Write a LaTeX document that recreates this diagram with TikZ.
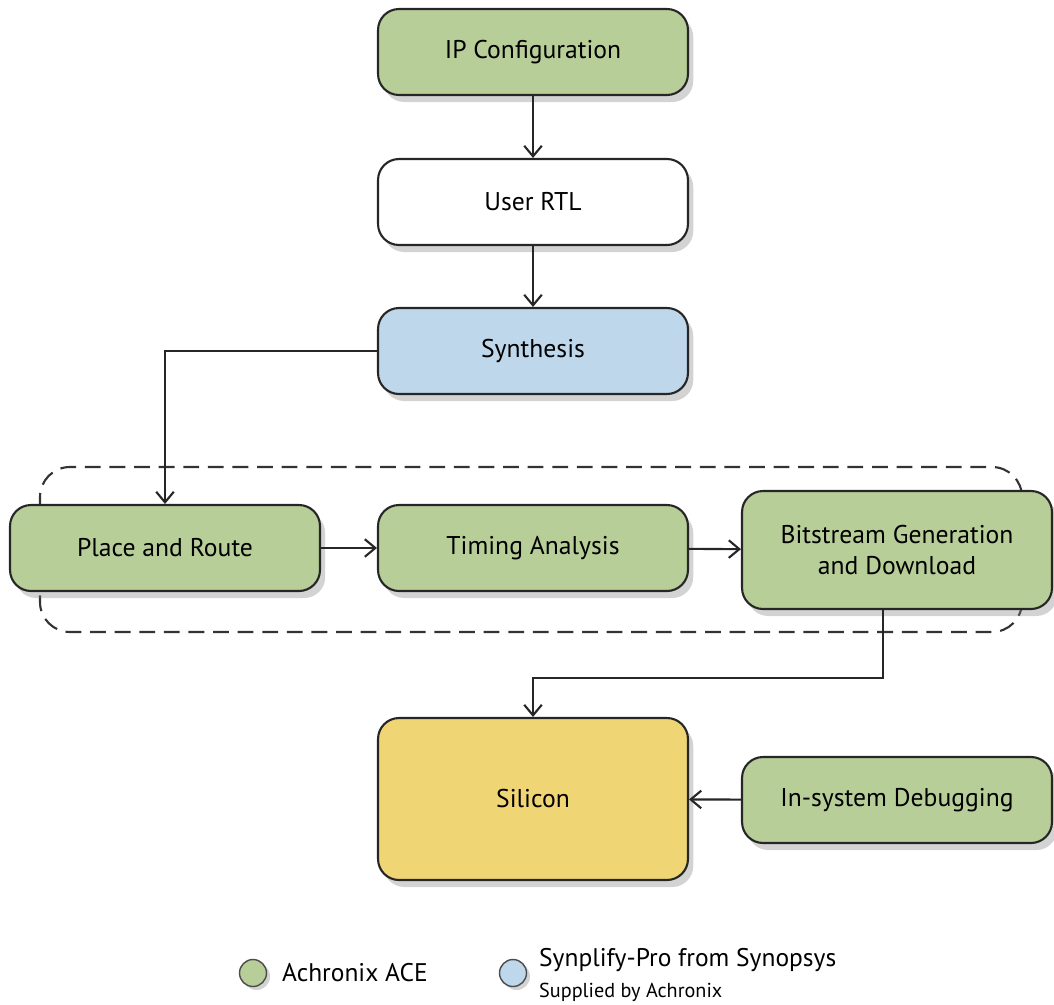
\documentclass[tikz,border=0pt]{standalone}
\usepackage{fontspec}
\setmainfont{PT Sans}
\usetikzlibrary{shadows,arrows.meta}
\definecolor{acegreen}{RGB}{184,206,152}
\definecolor{synblue}{RGB}{191,215,234}
\definecolor{siliconyellow}{RGB}{240,213,116}

\begin{document}
\begin{tikzpicture}[x=0.02cm,y=-0.02cm,
    stage/.style={draw=black!85,line width=1.2pt,rounded corners=0.42cm,
      minimum width=6.2cm,minimum height=1.72cm,align=center,
      font=\fontsize{14.6}{18}\selectfont,
      drop shadow={shadow xshift=3pt,shadow yshift=-4pt,opacity=0.35}},
    flow/.style={-{Straight Barb[length=6pt,width=10pt]},line width=1.2pt,black!85},
    dot/.style={circle,draw=black!70,line width=0.8pt,minimum size=0.54cm,inner sep=0pt,
      drop shadow={shadow xshift=2pt,shadow yshift=-2pt,opacity=0.35}}]
  \useasboundingbox (0,0) rectangle (1054,1004);

  % the part done inside ACE
  \draw[dashed,line width=1.2pt,black!80,dash pattern=on 9pt off 5pt,rounded corners=0.6cm]
    (40,467) rectangle (1022,632);

  \node[stage,fill=acegreen] (ipconf) at (533,52) {IP Configuration};
  \node[stage,fill=white] (rtl) at (533,202) {User RTL};
  \node[stage,fill=synblue] (synth) at (533,351) {Synthesis};
  \node[stage,fill=acegreen] (pnr) at (165,548) {Place and Route};
  \node[stage,fill=acegreen] (timing) at (533,548) {Timing Analysis};
  \node[stage,fill=acegreen,minimum height=2.36cm] (bitgen) at (897,550)
    {Bitstream Generation\\and Download};
  \node[stage,fill=siliconyellow,minimum height=3.24cm] (silicon) at (533,799) {Silicon};
  \node[stage,fill=acegreen] (debug) at (897,800) {In-system Debugging};

  \draw[flow] (ipconf) -- (rtl);
  \draw[flow] (rtl) -- (synth);
  \draw[flow] (synth.west) -| (pnr.north);
  \draw[flow] (pnr) -- (timing);
  \draw[flow] (timing) -- (bitgen);
  \draw[flow] (bitgen.south -| 883,0) |- (533,678) -- (silicon.north);
  \draw[flow] (debug) -- (silicon);

  % legend
  \node[dot,fill=acegreen] (aceDot) at (253,973) {};
  \node[anchor=west,font=\fontsize{14.5}{16}\selectfont] (aceText) at (276,973) {Achronix ACE};
  \node[dot,fill=synblue] (synDot) at (513,973) {};
  \node[anchor=west,font=\fontsize{14.5}{16}\selectfont] (synText) at (533,960) {Synplify-Pro from Synopsys};
  \node[anchor=west,font=\fontsize{11.5}{13}\selectfont] (synSub) at (533,992) {Supplied by Achronix};
\end{tikzpicture}
\end{document}
